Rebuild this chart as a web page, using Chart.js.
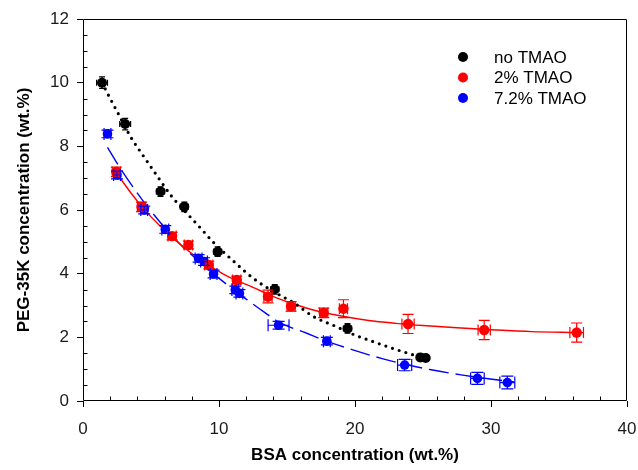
<!DOCTYPE html>
<html>
<head>
<meta charset="utf-8">
<script src="https://cdn.jsdelivr.net/npm/chart.js@4.4.0/dist/chart.umd.min.js"></script>
<style>
  html, body { margin: 0; padding: 0; background: #fff; }
  canvas { display: block; }
</style>
</head>
<body>
<canvas id="c" width="638" height="470"></canvas>
<script>
// Measured compositions (BSA wt.% vs PEG-35K wt.%) with uncertainties
const noTmaoX    = [1.4, 3.1, 5.7, 7.45, 9.9, 14.1, 19.45, 24.8, 25.2];
const noTmaoY    = [10.0, 8.7, 6.58, 6.1, 4.69, 3.51, 2.28, 1.37, 1.35];
const noTmaoXErr = [0.4, 0.4, 0.3, 0.3, 0.3, 0.3, 0.3, 0.2, 0.2];
const noTmaoYErr = [0.18, 0.18, 0.15, 0.15, 0.15, 0.15, 0.15, 0.1, 0.1];

const tmao2X    = [2.45, 4.3, 6.55, 7.75, 9.25, 11.3, 13.6, 15.3, 17.7, 19.15, 23.9, 29.5, 36.3];
const tmao2Y    = [7.2, 6.1, 5.18, 4.9, 4.27, 3.8, 3.28, 2.97, 2.77, 2.9, 2.42, 2.23, 2.15];
const tmao2XErr = [0.3, 0.3, 0.3, 0.3, 0.3, 0.3, 0.3, 0.3, 0.3, 0.3, 0.45, 0.45, 0.5];
const tmao2YErr = [0.15, 0.15, 0.12, 0.12, 0.12, 0.12, 0.2, 0.15, 0.15, 0.28, 0.3, 0.3, 0.3];

const tmao72X    = [1.8, 2.5, 4.5, 6.05, 8.5, 8.9, 9.6, 11.2, 11.5, 14.38, 17.93, 23.65, 29.0, 31.2];
const tmao72Y    = [8.39, 7.1, 6.0, 5.39, 4.48, 4.38, 3.99, 3.49, 3.38, 2.38, 1.88, 1.13, 0.71, 0.58];
const tmao72XErr = [0.25, 0.25, 0.25, 0.25, 0.25, 0.25, 0.25, 0.25, 0.25, 0.77, 0.25, 0.52, 0.5, 0.55];
const tmao72YErr = [0.12, 0.12, 0.12, 0.12, 0.12, 0.12, 0.12, 0.12, 0.12, 0.12, 0.12, 0.18, 0.19, 0.2];

// Fitted binodal curves
const fitNoTmaoX = [1.4, 2, 2.6, 3.5, 4.5, 5.5, 6.5, 7.5, 8.5, 9.6, 11, 12.5, 14, 15.5, 17, 18.5, 20, 21.5, 23, 24.8];
const fitNoTmaoY = [10.0, 9.5, 9.02, 8.3, 7.66, 7.04, 6.44, 5.96, 5.5, 4.98, 4.42, 3.86, 3.44, 3.08, 2.64, 2.36, 2.07, 1.84, 1.62, 1.38];

const fit2X = [2.4, 3.5, 4.5, 5.5, 6.5, 7.5, 8.5, 9.5, 10.5, 11.5, 12.5, 14, 15.5, 17, 19, 21, 23, 25, 27.5, 30, 33, 36.3];
const fit2Y = [7.2, 6.55, 6.02, 5.57, 5.17, 4.8, 4.48, 4.2, 3.95, 3.75, 3.57, 3.28, 3.05, 2.85, 2.67, 2.53, 2.44, 2.37, 2.3, 2.24, 2.18, 2.15];

const fit72X = [1.8, 2.7, 4.1, 5.7, 7.2, 8.7, 10.1, 12.1, 13.3, 14.4, 16.5, 17.9, 19.9, 22, 23.7, 25.6, 27.8, 29.8, 31.7];
const fit72Y = [7.97, 7.34, 6.47, 5.6, 4.9, 4.33, 3.82, 3.17, 2.8, 2.48, 2.12, 1.88, 1.6, 1.33, 1.15, 0.98, 0.82, 0.7, 0.6];

// Axis ticks
const xMajorTicks = [0, 10, 20, 30, 40];
const yMajorTicks = [0, 2, 4, 6, 8, 10, 12];
const xMinorStep = 2;
const yMinorStep = 0.5;

const seriesNames = ['no TMAO', '2% TMAO', '7.2% TMAO'];
const seriesColors = ['#000000', '#ff0000', '#0000ff'];

const pts = (xs, ys) => xs.map((v, i) => ({ x: v, y: ys[i] }));

const FONT = 'Arial, "Liberation Sans", sans-serif';

// Error bars with end caps, drawn in each series colour
const errorBars = {
  id: 'errorBars',
  afterDatasetsDraw(chart) {
    const { ctx, scales: { x, y } } = chart;
    ctx.save();
    chart.data.datasets.forEach(ds => {
      if (!ds.errX) return;
      ctx.strokeStyle = ds.backgroundColor;
      ctx.lineWidth = 1.2;
      const cap = ds.capHalf;
      ds.data.forEach((p, i) => {
        const px = x.getPixelForValue(p.x), py = y.getPixelForValue(p.y);
        const x0 = x.getPixelForValue(p.x - ds.errX[i]), x1 = x.getPixelForValue(p.x + ds.errX[i]);
        const y0 = y.getPixelForValue(p.y - ds.errY[i]), y1 = y.getPixelForValue(p.y + ds.errY[i]);
        ctx.beginPath();
        ctx.moveTo(x0, py); ctx.lineTo(x1, py);
        ctx.moveTo(x0, py - cap); ctx.lineTo(x0, py + cap);
        ctx.moveTo(x1, py - cap); ctx.lineTo(x1, py + cap);
        ctx.moveTo(px, y0); ctx.lineTo(px, y1);
        ctx.moveTo(px - cap, y0); ctx.lineTo(px + cap, y0);
        ctx.moveTo(px - cap, y1); ctx.lineTo(px + cap, y1);
        ctx.stroke();
      });
    });
    ctx.restore();
  }
};

// Plot frame, inward minor ticks and in-plot legend
const frameAndLegend = {
  id: 'frameAndLegend',
  afterDraw(chart) {
    const { ctx, chartArea: a, scales: { x, y } } = chart;
    ctx.save();
    ctx.strokeStyle = '#000';
    ctx.lineWidth = 1;
    const L = Math.round(a.left) + 0.5, R = Math.round(a.right) - 0.5;
    const T = Math.round(a.top) + 0.5, B = Math.round(a.bottom) - 0.5;
    ctx.beginPath();
    ctx.moveTo(L, T); ctx.lineTo(R, T); ctx.lineTo(R, B); ctx.lineTo(L, B); ctx.closePath();
    ctx.stroke();

    ctx.beginPath();
    for (let v = x.min + xMinorStep; v < x.max; v += xMinorStep) {
      if (xMajorTicks.includes(v)) continue;
      const px = Math.round(x.getPixelForValue(v)) + 0.5;
      ctx.moveTo(px, B); ctx.lineTo(px, B - 4);
    }
    for (let v = y.min + yMinorStep; v < y.max; v += yMinorStep) {
      if (yMajorTicks.includes(v)) continue;
      const py = Math.round(y.getPixelForValue(v)) + 0.5;
      ctx.moveTo(L, py); ctx.lineTo(L + 4, py);
    }
    ctx.stroke();

    // legend
    ctx.font = '17px ' + FONT;
    ctx.textBaseline = 'middle';
    ctx.textAlign = 'left';
    seriesNames.forEach((name, i) => {
      const cy = a.top + 38 + i * 20.5;
      ctx.fillStyle = seriesColors[i];
      ctx.beginPath();
      ctx.arc(a.right - 164, cy, 5, 0, Math.PI * 2);
      ctx.fill();
      ctx.fillStyle = '#000';
      ctx.fillText(name, a.right - 133, cy + 1);
    });
    ctx.restore();
  }
};

const tickFont = { family: FONT, size: 17 };
const titleFont = { family: FONT, size: 17, weight: 'bold' };

new Chart(document.getElementById('c'), {
  type: 'scatter',
  data: {
    datasets: [
      { label: seriesNames[0], data: pts(noTmaoX, noTmaoY), errX: noTmaoXErr, errY: noTmaoYErr, capHalf: 3,
        backgroundColor: seriesColors[0], borderColor: seriesColors[0], pointRadius: 5, borderWidth: 0, order: 0 },
      { label: seriesNames[1], data: pts(tmao2X, tmao2Y), errX: tmao2XErr, errY: tmao2YErr, capHalf: 5.5,
        backgroundColor: seriesColors[1], borderColor: seriesColors[1], pointRadius: 5.2, borderWidth: 0, order: 0 },
      { label: seriesNames[2], data: pts(tmao72X, tmao72Y), errX: tmao72XErr, errY: tmao72YErr, capHalf: 6,
        backgroundColor: seriesColors[2], borderColor: seriesColors[2], pointRadius: 4.8, borderWidth: 0, order: 0 },
      { label: 'fit ' + seriesNames[0], data: pts(fitNoTmaoX, fitNoTmaoY), showLine: true, pointRadius: 0,
        borderColor: '#000', borderWidth: 3.2, borderDash: [0, 7], borderCapStyle: 'round',
        cubicInterpolationMode: 'monotone', order: 1 },
      { label: 'fit ' + seriesNames[1], data: pts(fit2X, fit2Y), showLine: true, pointRadius: 0,
        borderColor: '#ff0000', borderWidth: 1.4, cubicInterpolationMode: 'monotone', order: 1 },
      { label: 'fit ' + seriesNames[2], data: pts(fit72X, fit72Y), showLine: true, pointRadius: 0,
        borderColor: '#0000ff', borderWidth: 1.4, borderDash: [20, 7], cubicInterpolationMode: 'monotone', order: 1 }
    ]
  },
  options: {
    responsive: false,
    animation: false,
    events: [],
    layout: { padding: { top: 19, right: 11, left: 0, bottom: 0 } },
    plugins: { legend: { display: false }, tooltip: { enabled: false } },
    scales: {
      x: {
        type: 'linear', min: 0, max: 40,
        afterBuildTicks: s => { s.ticks = xMajorTicks.map(v => ({ value: v })); },
        ticks: { font: tickFont, color: '#1a1a1a', padding: 12, maxRotation: 0 },
        grid: { drawOnChartArea: false, drawTicks: true, tickLength: 6, color: '#000' },
        border: { display: false },
        title: { display: true, text: 'BSA concentration (wt.%)', font: titleFont, color: '#000',
                 padding: { top: 0, bottom: 4 } },
        afterFit: s => { s.height = 69; s.paddingLeft = 0; s.paddingRight = 0; }
      },
      y: {
        type: 'linear', min: 0, max: 12,
        afterBuildTicks: s => { s.ticks = yMajorTicks.map(v => ({ value: v })); },
        ticks: { font: tickFont, color: '#1a1a1a', padding: 8 },
        grid: { drawOnChartArea: false, drawTicks: true, tickLength: 6, color: '#000' },
        border: { display: false },
        title: { display: true, text: 'PEG-35K concentration (wt.%)', font: titleFont, color: '#000',
                 padding: { top: 14, bottom: 0 } },
        afterFit: s => { s.width = 83; s.paddingTop = 0; s.paddingBottom = 0; }
      }
    }
  },
  plugins: [errorBars, frameAndLegend]
});
</script>
</body>
</html>
